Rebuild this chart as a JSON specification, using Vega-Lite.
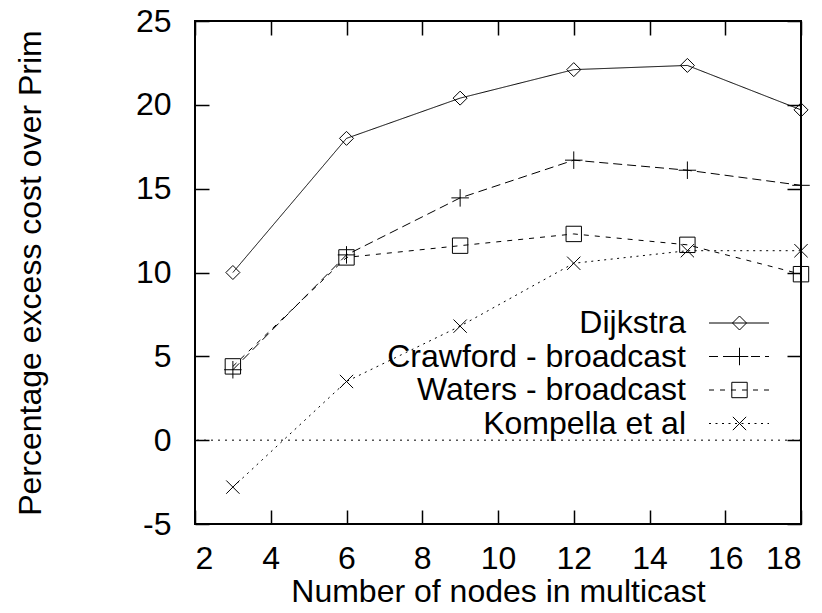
{
  "$schema": "https://vega.github.io/schema/vega-lite/v6.json",
  "width": 606,
  "height": 503,
  "autosize": {"type": "none"},
  "padding": {"left": 195, "top": 21, "right": 21, "bottom": 89},
  "background": "white",
  "config": {
    "view": {"stroke": "black", "strokeWidth": 2},
    "font": "Liberation Sans",
    "axis": {
      "grid": false,
      "domain": false,
      "tickColor": "black",
      "tickWidth": 1.5,
      "tickSize": -14,
      "labelFont": "Liberation Sans",
      "labelFontSize": 32,
      "labelColor": "black",
      "labelPadding": 35,
      "titleFont": "Liberation Sans",
      "titleFontSize": 32,
      "titleFontWeight": "normal",
      "titleColor": "black"
    }
  },
  "data": {
    "values": [
      {"n": 3, "series": "Dijkstra", "cost": 10.0},
      {"n": 6, "series": "Dijkstra", "cost": 18.0},
      {"n": 9, "series": "Dijkstra", "cost": 20.4},
      {"n": 12, "series": "Dijkstra", "cost": 22.1},
      {"n": 15, "series": "Dijkstra", "cost": 22.35},
      {"n": 18, "series": "Dijkstra", "cost": 19.7},
      {"n": 3, "series": "Crawford - broadcast", "cost": 4.2},
      {"n": 6, "series": "Crawford - broadcast", "cost": 11.05},
      {"n": 9, "series": "Crawford - broadcast", "cost": 14.45},
      {"n": 12, "series": "Crawford - broadcast", "cost": 16.7},
      {"n": 15, "series": "Crawford - broadcast", "cost": 16.1},
      {"n": 18, "series": "Crawford - broadcast", "cost": 15.2},
      {"n": 3, "series": "Waters - broadcast", "cost": 4.4},
      {"n": 6, "series": "Waters - broadcast", "cost": 10.9},
      {"n": 9, "series": "Waters - broadcast", "cost": 11.6},
      {"n": 12, "series": "Waters - broadcast", "cost": 12.3},
      {"n": 15, "series": "Waters - broadcast", "cost": 11.65},
      {"n": 18, "series": "Waters - broadcast", "cost": 9.9},
      {"n": 3, "series": "Kompella et al", "cost": -2.8},
      {"n": 6, "series": "Kompella et al", "cost": 3.5},
      {"n": 9, "series": "Kompella et al", "cost": 6.8},
      {"n": 12, "series": "Kompella et al", "cost": 10.55},
      {"n": 15, "series": "Kompella et al", "cost": 11.3},
      {"n": 18, "series": "Kompella et al", "cost": 11.3}
    ]
  },
  "layer": [
    {
      "data": {"values": [{}]},
      "mark": {"type": "rule", "strokeDash": [2, 5], "color": "black", "strokeWidth": 1},
      "encoding": {
        "y": {"datum": 0, "type": "quantitative", "scale": {"domain": [-5, 25], "nice": false, "zero": false}, "axis": null}
      }
    },
    {
      "mark": {"type": "line", "strokeWidth": 1, "color": "black"},
      "encoding": {
        "x": {
          "field": "n", "type": "quantitative",
          "scale": {"domain": [2, 18], "nice": false, "zero": false},
          "axis": {"orient": "bottom", "values": [2, 4, 6, 8, 10, 12, 14, 16, 18], "title": "Number of nodes in multicast", "titlePadding": 2, "labelPadding": 33}
        },
        "y": {
          "field": "cost", "type": "quantitative",
          "scale": {"domain": [-5, 25], "nice": false, "zero": false},
          "axis": {"orient": "left", "values": [-5, 0, 5, 10, 15, 20, 25], "labelExpr": "datum.value + ''", "labelPadding": 38, "title": "Percentage excess cost over Prim", "titlePadding": 88}
        },
        "strokeDash": {
          "field": "series", "type": "nominal",
          "scale": {
            "domain": ["Dijkstra", "Crawford - broadcast", "Waters - broadcast", "Kompella et al"],
            "range": [[1, 0], [9, 5], [5, 6], [2, 4.5]]
          },
          "legend": {
            "title": null, "orient": "none", "legendX": 528, "legendY": 286, "padding": 0,
            "symbolType": "M-4,0L4,0", "symbolSize": 225, "symbolStrokeWidth": 1, "symbolStrokeColor": "black",
            "labelAlign": "right", "labelOffset": -69, "labelFontSize": 32, "labelFont": "Liberation Sans",
            "labelColor": "black", "labelLimit": 400, "rowPadding": 1.5, "labelBaseline": "middle"
          }
        }
      }
    },
    {
      "mark": {"type": "point", "filled": false, "color": "black", "strokeWidth": 1, "size": 196, "opacity": 1},
      "encoding": {
        "x": {
          "field": "n", "type": "quantitative",
          "axis": {"orient": "top", "labels": false, "title": null, "values": [2, 4, 6, 8, 10, 12, 14, 16, 18]}
        },
        "y": {
          "field": "cost", "type": "quantitative",
          "axis": {"orient": "right", "labels": false, "title": null, "values": [-5, 0, 5, 10, 15, 20, 25]}
        },
        "shape": {
          "field": "series", "type": "nominal", "sort": null,
          "scale": {
            "range": [
              "M0,-1L1,0L0,1L-1,0Z",
              "M-1.25,0L1.25,0M0,-1.25L0,1.25",
              "M-1.1,-1.1L1.1,-1.1L1.1,1.1L-1.1,1.1Z",
              "M-0.95,-0.95L0.95,0.95M-0.95,0.95L0.95,-0.95"
            ]
          },
          "legend": {
            "title": null, "orient": "none", "legendX": 528.5, "legendY": 286, "padding": 0,
            "symbolSize": 196, "symbolStrokeWidth": 1, "symbolStrokeColor": "black", "symbolFillColor": "transparent",
            "labelAlign": "right", "labelOffset": -69, "labelFontSize": 32, "labelFont": "Liberation Sans",
            "labelColor": "black", "labelOpacity": 0, "labelLimit": 400, "rowPadding": 1.5, "labelBaseline": "middle"
          }
        }
      }
    }
  ],
  "resolve": {"axis": {"x": "independent", "y": "independent"}}
}
